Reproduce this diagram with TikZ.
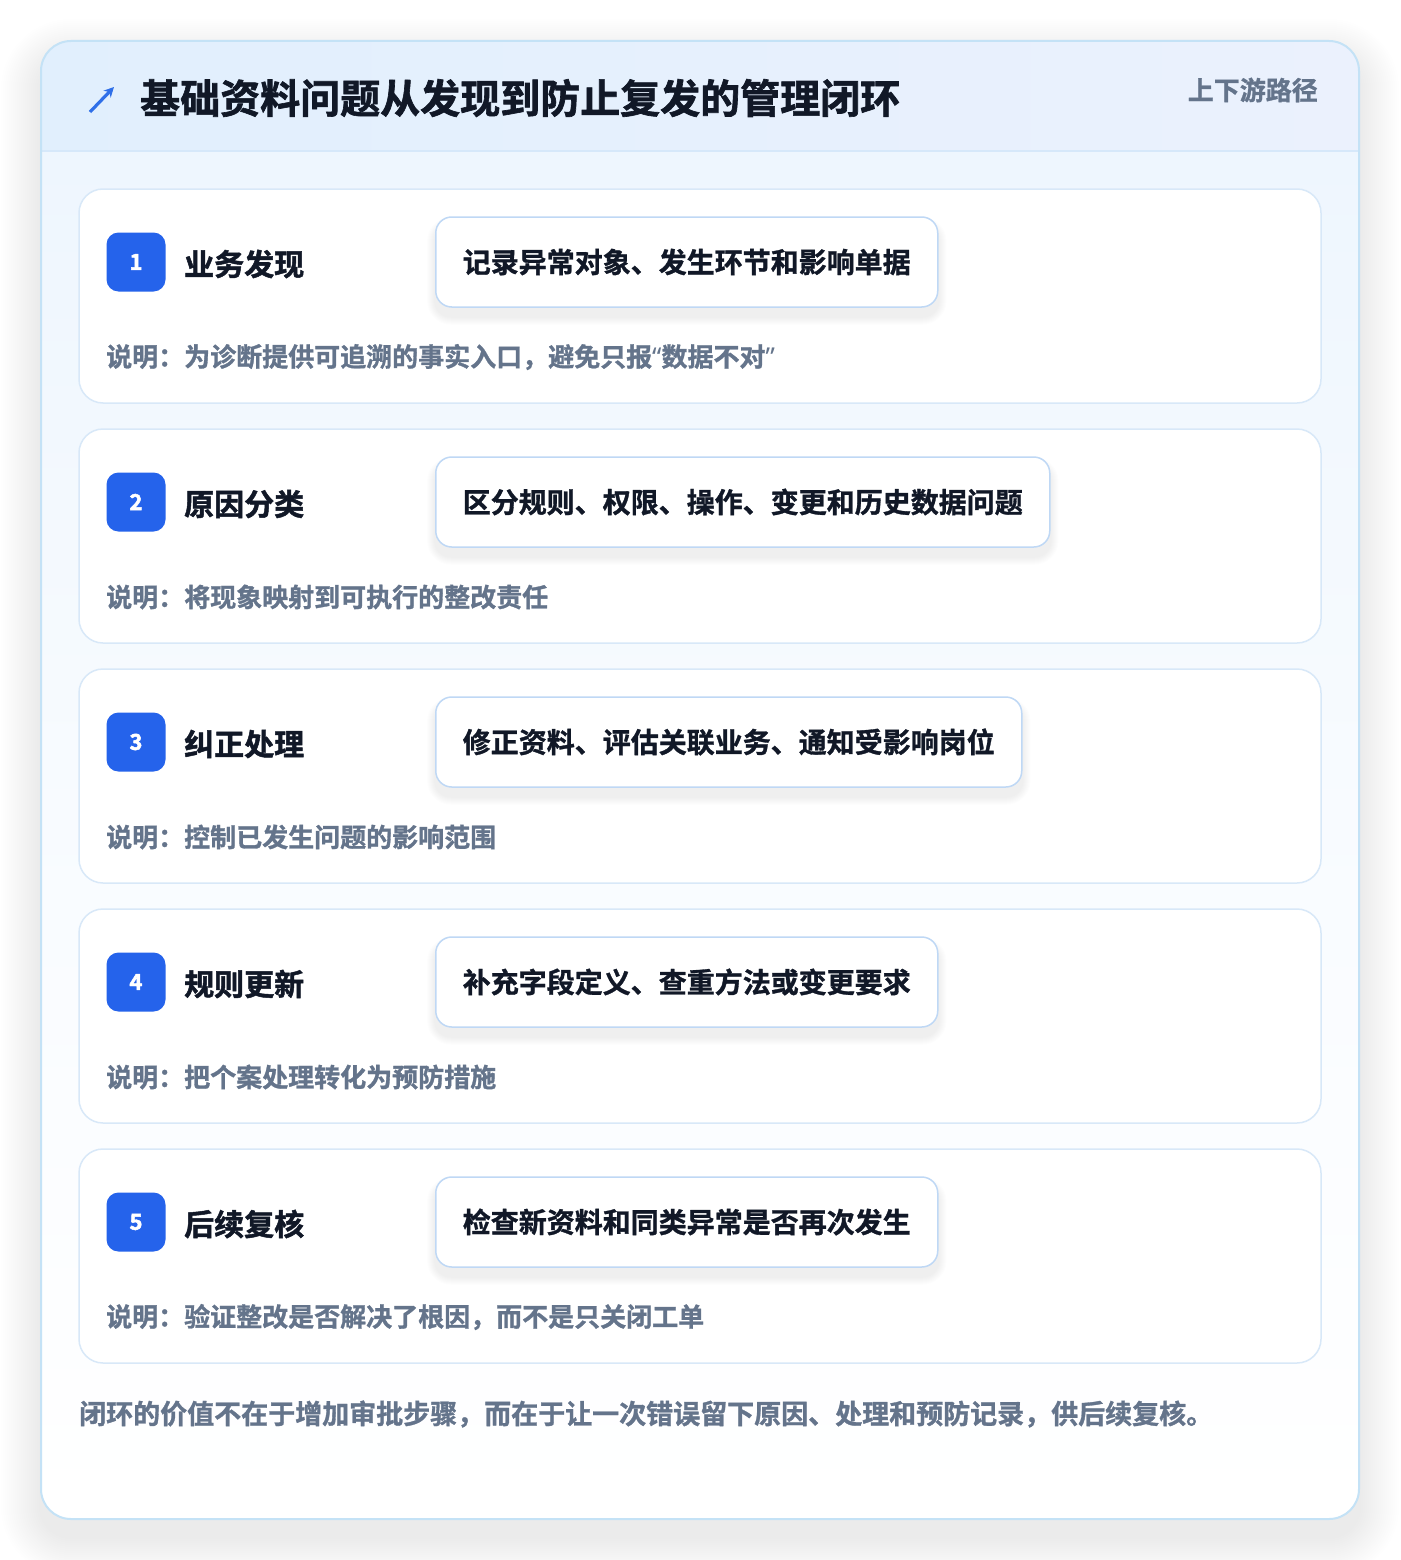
\documentclass[tikz,border=0pt]{standalone}
\usepackage{fontspec}
\setmainfont{Noto Sans CJK SC}[BoldFont={Noto Sans CJK SC Bold}, BoldFeatures={FakeBold=1.1}]
\newfontfamily\heavyfont{Noto Sans CJK SC Bold}[FakeBold=1.6]
\newfontfamily\quotefont{Noto Sans}
\newfontfamily\numfont{Noto Sans CJK SC Bold}[FakeBold=2.2]
\usetikzlibrary{arrows.meta}
\definecolor{outerborder}{HTML}{C4E2F6}
\definecolor{hdrL}{HTML}{E1EFFD}
\definecolor{hdrR}{HTML}{EBF1FD}
\definecolor{hdrline}{HTML}{D6E8FA}
\definecolor{bodytop}{HTML}{EEF6FE}
\definecolor{cardborder}{HTML}{D8E8F8}
\definecolor{boxborder}{HTML}{BFD8F5}
\definecolor{badgeblue}{HTML}{2563EB}
\definecolor{ink}{HTML}{111827}
\definecolor{muted}{HTML}{64748B}
\definecolor{iconblue}{HTML}{2F6FE8}
\newcommand{\myqopen}{{\quotefont\bfseries “}}
\newcommand{\myqclose}{{\quotefont\bfseries ”}}
\begin{document}
\begin{tikzpicture}[x=1pt,y=-1pt,
  stepcard/.style={draw=cardborder, line width=1.5pt, fill=white, rounded corners=24pt,
    minimum width=1242pt, minimum height=214pt, inner sep=0pt},
  badgebox/.style={fill=badgeblue, rounded corners=12pt, minimum size=59pt, inner sep=0pt,
    text=white, font=\fontsize{22}{26}\selectfont\numfont},
  steptitle/.style={anchor=west, inner sep=0pt, text=ink, font=\fontsize{30}{36}\selectfont\heavyfont},
  detailbase/.style={anchor=west, line width=1.5pt, rounded corners=16pt,
    minimum height=90pt, inner xsep=27pt, font=\fontsize{28}{34}\selectfont\bfseries},
  detailbox/.style={detailbase, draw=boxborder, fill=white, text=ink},
  detailghost/.style={detailbase, draw=none, fill=none, text opacity=0},
  notetext/.style={anchor=west, inner sep=0pt, text=muted, font=\fontsize{26}{30}\selectfont\bfseries}
]
\useasboundingbox[fill=white] (0,0) rectangle (1400,1560);
% outer card shadow
\foreach \k in {1,...,20} {
  \fill[black, opacity=0.0045, rounded corners={30+2*\k}]
    ({41-2*\k},{41-2*\k+18}) rectangle ({1359+2*\k},{1519+2*\k+18});
}
\fill[white, rounded corners=30pt] (41,41) rectangle (1359,1519);
\begin{scope}
  \clip[rounded corners=30pt] (41,41) rectangle (1359,1519);
  \shade[top color=bodytop, bottom color=white, middle color=white!60!bodytop] (41,151) rectangle (1359,1519);
  \shade[left color=hdrL, right color=hdrR] (41,41) rectangle (1359,151);
  \draw[hdrline, line width=1.5pt] (41,151) -- (1359,151);
\end{scope}
\draw[outerborder, line width=2pt, rounded corners=30pt] (41,41) rectangle (1359,1519);
% header
\draw[iconblue, line width=3.2pt, -{Stealth[length=10pt, width=10pt]}] (90,112) -- (114,87);
\node[anchor=west, inner sep=0pt, text=ink, font=\fontsize{40}{48}\selectfont\heavyfont] (title) at (140,98)
  {基础资料问题从发现到防止复发的管理闭环};
\node[anchor=east, inner sep=0pt, text=muted, font=\fontsize{26}{30}\selectfont\bfseries] (tag) at (1318,90)
  {上下游路径};
% steps
\foreach \i/\t/\d/\n in {
  1/{业务发现}/{记录异常对象、发生环节和影响单据}/{说明：为诊断提供可追溯的事实入口，避免只报\myqopen 数据不对\myqclose},
  2/{原因分类}/{区分规则、权限、操作、变更和历史数据问题}/{说明：将现象映射到可执行的整改责任},
  3/{纠正处理}/{修正资料、评估关联业务、通知受影响岗位}/{说明：控制已发生问题的影响范围},
  4/{规则更新}/{补充字段定义、查重方法或变更要求}/{说明：把个案处理转化为预防措施},
  5/{后续复核}/{检查新资料和同类异常是否再次发生}/{说明：验证整改是否解决了根因，而不是只关闭工单}} {
  \pgfmathsetmacro{\oy}{240*(\i-1)}
  \node[stepcard] (card\i) at (700,296+\oy) {};
  \node[badgebox] (badge\i) at (136,262+\oy) {\i};
  \node[steptitle] (stitle\i) at (184,264+\oy) {\t};
  \node[detailghost] (ghost\i) at (435,262+\oy) {\d};
  \foreach \k in {1,...,8} {
    \fill[black, opacity=0.007, rounded corners={16+\k}]
      ([shift={(-\k,{-\k+9})}]ghost\i.north west) rectangle ([shift={(\k,{\k+9})}]ghost\i.south east);
  }
  \node[detailbox] (detail\i) at (435,262+\oy) {\d};
  \node[notetext] (note\i) at (106,357+\oy) {\n};
}
% footer
\node[anchor=west, inner sep=0pt, text=muted, font=\fontsize{27}{32}\selectfont\bfseries] (footer) at (79,1414)
  {闭环的价值不在于增加审批步骤，而在于让一次错误留下原因、处理和预防记录，供后续复核。};
\end{tikzpicture}
\end{document}
